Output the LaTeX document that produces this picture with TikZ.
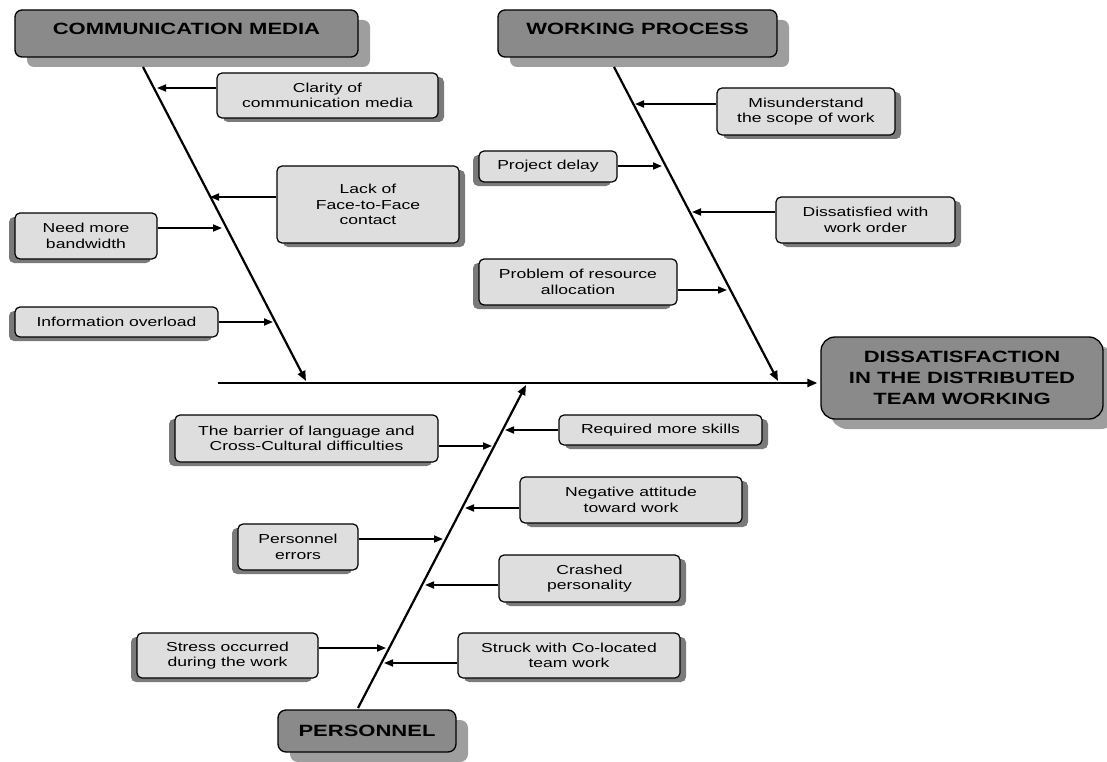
\documentclass[tikz,border=0pt]{standalone}
\usepackage{fontspec}
\setmainfont{Liberation Sans}[FakeStretch=1.35]
\usetikzlibrary{shadows,arrows.meta}
\definecolor{hdrgray}{HTML}{8A8A8A}
\definecolor{hdrshadow}{HTML}{9E9E9E}
\definecolor{boxgray}{HTML}{DEDEDE}
\definecolor{boxshadow}{HTML}{7A7A7A}
\newcommand\causefont{\fontsize{13}{15.5}\selectfont}
\newcommand\hdrfont{\fontsize{16.3}{21}\selectfont\bfseries}
\tikzset{
  sz/.style 2 args={minimum width=#1pt,minimum height=#2pt},
  hdr/.style={draw=black,line width=1.3pt,fill=hdrgray,rounded corners=7pt,
    font=\hdrfont,align=center,inner sep=0pt,
    drop shadow={shadow xshift=12pt,shadow yshift=-10pt,fill=hdrshadow,opacity=1}},
  cause/.style={draw=black,line width=1.2pt,fill=boxgray,rounded corners=5pt,
    font=\causefont,align=center,inner sep=0pt},
  sboxR/.style={cause,drop shadow={shadow xshift=6pt,shadow yshift=-4pt,fill=boxshadow,opacity=1}},
  sboxL/.style={cause,drop shadow={shadow xshift=-6pt,shadow yshift=-4pt,fill=boxshadow,opacity=1}},
  bone/.style={line width=2.2pt,-{Triangle[length=10pt,width=8pt]}},
  carrow/.style={line width=1.7pt,-{Triangle[length=9pt,width=7pt]}},
}
\begin{document}
\begin{tikzpicture}[x=1pt,y=-1pt]
\useasboundingbox (0,0) rectangle (1107,762);

% headers and effect
\node[hdr,sz={343}{47},text height=25pt,text depth=22pt] (cm) at (186.5,33.5) {COMMUNICATION MEDIA};
\node[hdr,sz={279}{47},text height=25pt,text depth=22pt] (wp) at (637.5,33.5) {WORKING PROCESS};
\node[hdr,sz={178}{42},rounded corners=8pt] (pe) at (367,731) {PERSONNEL};
\node[hdr,sz={282}{82},rounded corners=14pt,
  drop shadow={shadow xshift=10pt,shadow yshift=-9pt,fill=hdrshadow,opacity=1}] (eff) at (962,378)
  {DISSATISFACTION\\IN THE DISTRIBUTED\\TEAM WORKING};

% communication media causes
\node[sboxR,sz={221}{45}] (clar) at (327.5,95.5) {Clarity of\\communication media};
\node[sboxR,sz={182}{77}] (lack) at (368,204.5) {Lack of\\Face-to-Face\\contact};
\node[sboxL,sz={142}{46}] (bw) at (86,236) {Need more\\bandwidth};
\node[sboxL,sz={203}{30}] (info) at (116.5,322) {Information overload};

% working process causes
\node[sboxR,sz={178}{47}] (mis) at (806,111.5) {Misunderstand\\the scope of work};
\node[sboxL,sz={138}{31}] (pd) at (548,166.5) {Project delay};
\node[sboxR,sz={179}{46}] (dis) at (865.5,220) {Dissatisfied with\\work order};
\node[sboxL,sz={198}{46}] (res) at (578,282) {Problem of resource\\allocation};

% personnel causes
\node[sboxL,sz={263}{47}] (bar) at (306.5,438.5) {The barrier of language and\\Cross-Cultural difficulties};
\node[sboxR,sz={203}{30}] (req) at (660.5,430) {Required more skills};
\node[sboxR,sz={222}{46}] (neg) at (631,500) {Negative attitude\\toward work};
\node[sboxL,sz={120}{46}] (err) at (298,547) {Personnel\\errors};
\node[sboxR,sz={181}{47}] (cra) at (589.5,578.5) {Crashed\\personality};
\node[sboxL,sz={181}{45}] (str) at (227.5,655.5) {Stress occurred\\during the work};
\node[sboxR,sz={222}{45}] (stc) at (569,655.5) {Struck with Co-located\\team work};

% bone coordinates
\coordinate (cmA) at (143,67);
\coordinate (cmB) at (306,381);
\coordinate (wpA) at (614,67);
\coordinate (wpB) at (778,381);
\coordinate (peA) at (358,708);
\coordinate (peB) at (526,385);
\coordinate (spL) at (218,383);

% spine and bones
\draw[bone,line width=2.4pt,shorten >=3pt] (spL) -- (spL -| eff.west);
\draw[bone] (cmA) -- (cmB);
\draw[bone] (wpA) -- (wpB);
\draw[bone] (peA) -- (peB);

% arrow tips on the bones
\coordinate (tA) at (157,88);
\coordinate (tB) at (210,197);
\coordinate (tC) at (222,228);
\coordinate (tD) at (273,322);
\coordinate (tE) at (635,104);
\coordinate (tF) at (662,166);
\coordinate (tG) at (692,212);
\coordinate (tH) at (727,290);
\coordinate (tI) at (505,430);
\coordinate (tJ) at (492,446);
\coordinate (tK) at (465,508);
\coordinate (tL) at (443,539);
\coordinate (tM) at (425,585);
\coordinate (tN) at (386,648);
\coordinate (tO) at (384,663);

\draw[carrow] (clar.west |- tA) -- (tA);
\draw[carrow] (lack.west |- tB) -- (tB);
\draw[carrow] (bw.east |- tC) -- (tC);
\draw[carrow] (info.east |- tD) -- (tD);
\draw[carrow] (mis.west |- tE) -- (tE);
\draw[carrow] (pd.east |- tF) -- (tF);
\draw[carrow] (dis.west |- tG) -- (tG);
\draw[carrow] (res.east |- tH) -- (tH);
\draw[carrow] (req.west |- tI) -- (tI);
\draw[carrow] (bar.east |- tJ) -- (tJ);
\draw[carrow] (neg.west |- tK) -- (tK);
\draw[carrow] (err.east |- tL) -- (tL);
\draw[carrow] (cra.west |- tM) -- (tM);
\draw[carrow] (str.east |- tN) -- (tN);
\draw[carrow] (stc.west |- tO) -- (tO);
\end{tikzpicture}
\end{document}
